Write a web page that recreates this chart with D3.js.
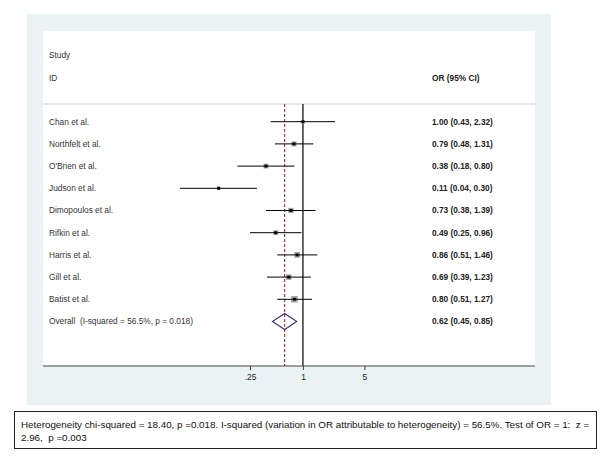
<!DOCTYPE html>
<html><head><meta charset="utf-8">
<script src="https://cdn.jsdelivr.net/npm/d3@7"></script>
<style>
html,body{margin:0;padding:0;background:#fff;}
svg text{font-family:"Liberation Sans",Arial,sans-serif;white-space:pre;}
</style></head>
<body><svg id="c" width="600" height="459"></svg>
<script>
const studies = ["Chan et al.","Northfelt et al.","O'Brien et al.","Judson et al.","Dimopoulos et al.","Rifkin et al.","Harris et al.","Gill et al.","Batist et al."];
const orValues = [1.00,0.79,0.38,0.11,0.73,0.49,0.86,0.69,0.80];
const ciLow = [0.43,0.48,0.18,0.04,0.38,0.25,0.51,0.39,0.51];
const ciHigh = [2.32,1.31,0.80,0.30,1.39,0.96,1.46,1.23,1.27];
const weights = [6,11,10,6,12,10,14,13,18];
const overall = {label:"Overall  (I-squared = 56.5%, p = 0.018)", or:0.62, lo:0.45, hi:0.85};
const tickValues = [0.25,1,5];
const tickLabels = [".25","1","5"];
const footerLines = ["Heterogeneity chi-squared = 18.40, p =0.018. I-squared (variation in OR attributable to heterogeneity) = 56.5%. Test of OR = 1:  z =","2.96,  p =0.003"];

const svg = d3.select("#c");
// graph region
svg.append("rect").attr("x",27).attr("y",14).attr("width",524).attr("height",391).attr("fill","#eaf2f3");
// plot region
const pl = 43, pr = 535, pt = 31, pb = 366;
svg.append("rect").attr("x",pl).attr("y",pt).attr("width",pr-pl).attr("height",pb-pt).attr("fill","#fff");

const x = d3.scaleLog().domain([0.25,5]).range([250,364.4]);
const rows = studies.map((s,i)=>i).concat([studies.length]);
const y = d3.scalePoint().domain(rows).range([121.7,321.5]);
const wSize = d3.scaleSqrt().domain([0,20]).range([0,6.8]);

const fs = 8.3;
// header
svg.append("text").attr("x",49).attr("y",55).attr("dy","0.35em").attr("font-size",fs).attr("fill","#333").text("Study");
svg.append("text").attr("x",49).attr("y",78).attr("dy","0.35em").attr("font-size",fs).attr("fill","#333").text("ID");
svg.append("text").attr("x",432).attr("y",78).attr("dy","0.35em").attr("font-size",fs).attr("fill","#222").attr("font-weight","bold").text("OR (95% CI)");
svg.append("line").attr("x1",pl).attr("x2",pr).attr("y1",104).attr("y2",104).attr("stroke","#cfcfcf").attr("stroke-width",1);

// reference lines
svg.append("line").attr("x1",x(1)).attr("x2",x(1)).attr("y1",104).attr("y2",pb).attr("stroke","#000").attr("stroke-width",1.2);
svg.append("line").attr("x1",x(overall.or)).attr("x2",x(overall.or)).attr("y1",104).attr("y2",pb).attr("stroke","#8b1a2b").attr("stroke-width",1).attr("stroke-dasharray","3,2");

const fmt = d3.format(".2f");
const g = svg.append("g");
studies.forEach((s,i)=>{
  const cy = y(i);
  g.append("text").attr("x",49).attr("y",cy).attr("dy","0.35em").attr("font-size",fs).attr("fill","#333").text(s);
  g.append("text").attr("x",432).attr("y",cy).attr("dy","0.35em").attr("font-size",fs).attr("fill","#222").attr("font-weight","bold")
    .text(`${fmt(orValues[i])} (${fmt(ciLow[i])}, ${fmt(ciHigh[i])})`);
  const sz = wSize(weights[i]);
  g.append("rect").attr("x",x(orValues[i])-sz/2).attr("y",cy-sz/2).attr("width",sz).attr("height",sz).attr("fill","#a0a0a0");
  g.append("line").attr("x1",x(ciLow[i])).attr("x2",x(ciHigh[i])).attr("y1",cy).attr("y2",cy).attr("stroke","#000").attr("stroke-width",1);
  g.append("rect").attr("x",x(orValues[i])-1.4).attr("y",cy-1.4).attr("width",2.8).attr("height",2.8).attr("fill","#000");
});
// overall
const oy = y(studies.length);
svg.append("text").attr("x",49).attr("y",oy).attr("dy","0.35em").attr("font-size",fs).attr("fill","#333").text(overall.label);
svg.append("text").attr("x",432).attr("y",oy).attr("dy","0.35em").attr("font-size",fs).attr("fill","#222").attr("font-weight","bold")
  .text(`${fmt(overall.or)} (${fmt(overall.lo)}, ${fmt(overall.hi)})`);
svg.append("path").attr("d",`M${x(overall.lo)},${oy} L${x(overall.or)},${oy-8} L${x(overall.hi)},${oy} L${x(overall.or)},${oy+8} Z`)
  .attr("fill","none").attr("stroke","#3b2f72").attr("stroke-width",1.1);

// axis
svg.append("line").attr("x1",pl).attr("x2",pr).attr("y1",pb).attr("y2",pb).attr("stroke","#444").attr("stroke-width",1.2);
const axis = d3.axisBottom(x).tickValues(tickValues).tickFormat((d,i)=>tickLabels[i]).tickSize(4).tickPadding(4);
const ag = svg.append("g").attr("transform",`translate(0,${pb})`).call(axis);
ag.select(".domain").remove();
ag.selectAll(".tick line").attr("stroke","#444");
ag.selectAll(".tick text").attr("font-size",fs).attr("fill","#222").attr("font-family","Liberation Sans, Arial, sans-serif");

// footer box
svg.append("rect").attr("x",14.5).attr("y",411.5).attr("width",582).attr("height",37).attr("fill","#fff").attr("stroke","#222").attr("stroke-width",1);
footerLines.forEach((t,i)=>{
  svg.append("text").attr("x",21).attr("y",424.5+i*13.5).attr("dy","0.35em").attr("font-size",9.8).attr("fill","#111").text(t);
});
</script></body></html>
